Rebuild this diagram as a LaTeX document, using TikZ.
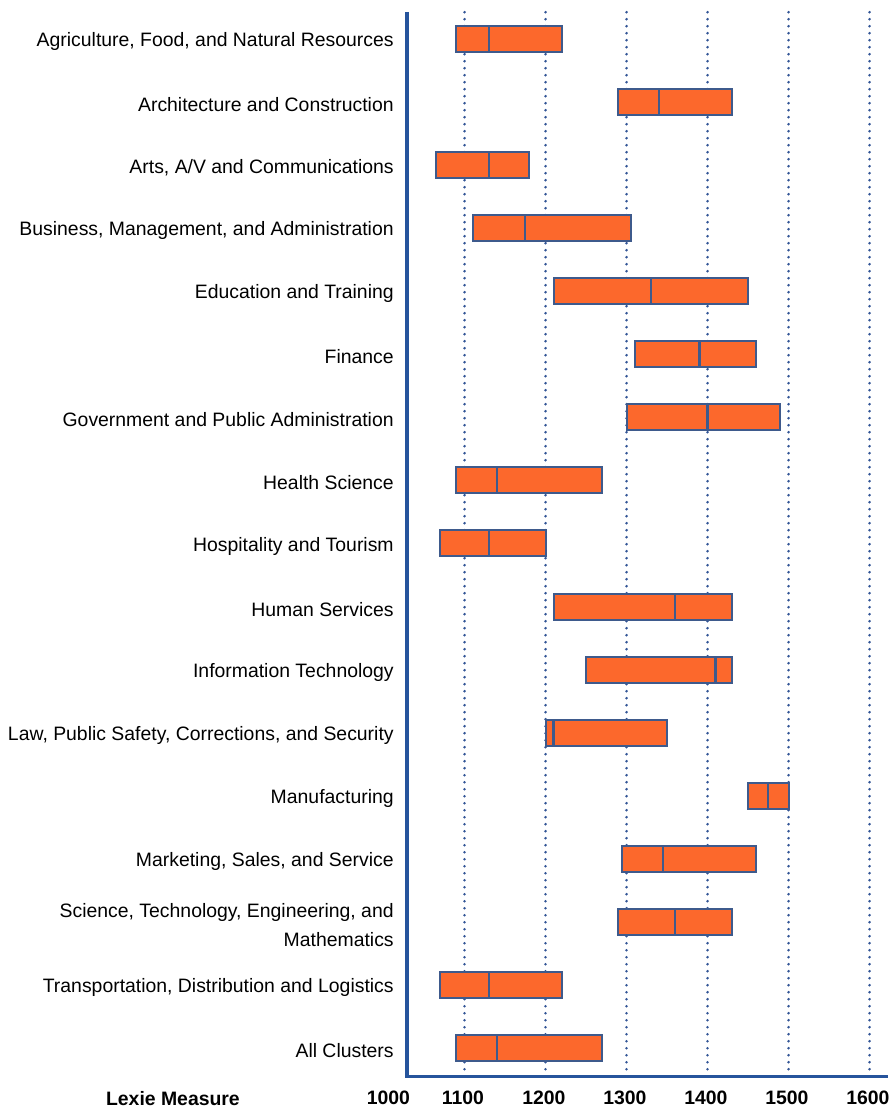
\documentclass[tikz,border=0pt]{standalone}
\usepackage{fontspec}
\setmainfont{Liberation Sans}
\definecolor{barfill}{RGB}{252,104,44}
\definecolor{barline}{RGB}{62,90,140}
\definecolor{axisblue}{RGB}{38,84,156}
\definecolor{gridblue}{RGB}{50,85,150}

\begin{document}
\begin{tikzpicture}[x=40.5pt,y=31.55pt,font=\fontsize{9.7}{14.5}\selectfont,
    bar/.style={fill=barfill,draw=barline,line width=1pt},
    median/.style={draw=barline,line width=1.2pt},
    gridline/.style={gridblue,line width=1.4pt,line cap=round,dash pattern=on 0pt off 3.5pt},
    cluster/.style={anchor=east,align=right,inner sep=0pt},
    ticklabel/.style={font=\fontsize{9.7}{14.5}\selectfont\bfseries,inner sep=0pt}]
    \useasboundingbox (-4.735,0.613) rectangle (6.253,-16.978);
    % dotted lines every 100
    \foreach \x in {1,...,6}{
      \draw[gridline] (\x,0.42) -- (\x,-16.34);
    }
    % boxes: low/median/high
    \foreach \lo/\md/\hi/\name [count=\i from 0] in {
        1090/1130/1220/{Agriculture, Food, and Natural Resources},
        1290/1340/1430/{Architecture and Construction},
        1065/1130/1180/{Arts, A/V and Communications},
        1110/1175/1305/{Business, Management, and Administration},
        1210/1330/1450/{Education and Training},
        1310/1390/1460/{Finance},
        1300/1400/1490/{Government and Public Administration},
        1090/1140/1270/{Health Science},
        1070/1130/1200/{Hospitality and Tourism},
        1210/1360/1430/{Human Services},
        1250/1410/1430/{Information Technology},
        1200/1210/1350/{Law, Public Safety, Corrections, and Security},
        1450/1475/1500/{Manufacturing},
        1295/1345/1460/{Marketing, Sales, and Service},
        1290/1360/1430/{Science, Technology, Engineering, and\\Mathematics},
        1070/1130/1220/{Transportation, Distribution and Logistics},
        1090/1140/1270/{All Clusters}}{
      \draw[bar] (\lo/100-10,-\i+0.206) rectangle (\hi/100-10,-\i-0.206);
      \draw[median] (\md/100-10,-\i+0.206) -- (\md/100-10,-\i-0.206);
      \node[cluster] (c\i) at (0.13,-\i-0.04) {\name};
    }
    % axes
    \coordinate (top) at (0.29,0.423);
    \coordinate (origin) at (0.29,-16.45);
    \coordinate (right) at (6.23,-16.45);
    \draw[axisblue,line width=1.6pt] (top) -- (origin) -- (right);
    \node[ticklabel] (t0) at (0.06,-16.79) {1000};
    \foreach \x in {1,...,6}{
      \pgfmathtruncatemacro\lab{1000+100*\x}
      \node[ticklabel] (t\x) at (\x-0.02,-16.79) {\lab};
    }
    \node[ticklabel] (title) at (-2.6,-16.79) {Lexie Measure};
\end{tikzpicture}
\end{document}
